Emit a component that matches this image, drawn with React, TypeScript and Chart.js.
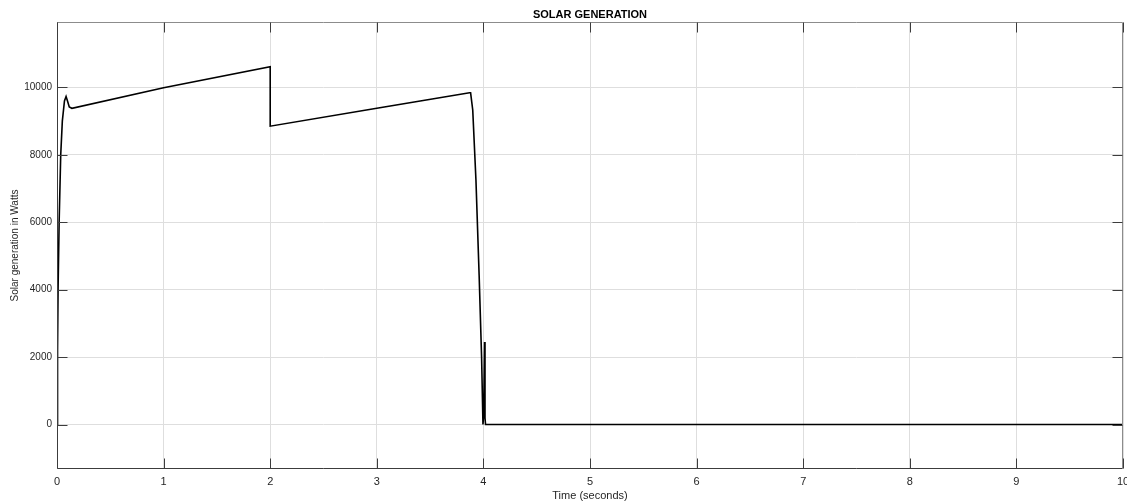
import React, { useEffect, useRef } from "react";
import { Chart, registerables } from "chart.js";

Chart.register(...registerables);

const timeSeconds = [
  0, 0.005, 0.01, 0.02, 0.035, 0.05, 0.07, 0.085, 0.1, 0.115, 0.14,
  1.0, 2.0, 2.0, 3.0, 3.87, 3.88, 3.9, 3.93, 3.96, 3.983, 3.996, 4.003,
  4.011, 4.015, 4.02, 5, 6, 7, 8, 9, 10,
];
const solarWatts = [
  0, 2200, 4000, 6000, 8000, 9000, 9600, 9730, 9580, 9420, 9380,
  9990, 10610, 8850, 9380, 9840, 9840, 9330, 7260, 4430, 2000, 0, 300,
  2450, 200, 0, 0, 0, 0, 0, 0, 0,
];
const xTicks = [0, 1, 2, 3, 4, 5, 6, 7, 8, 9, 10];
const yTicks = [0, 2000, 4000, 6000, 8000, 10000];
const titleText = "SOLAR GENERATION";
const xLabel = "Time (seconds)";
const yLabel = "Solar generation in Watts";

const FONT = "'Liberation Sans', Arial, sans-serif";

const framePlugin = {
  id: "frame",
  afterDraw(chart: any) {
    const { ctx, chartArea: a, scales } = chart;
    const L = Math.round(a.left) + 0.5;
    const R = Math.round(a.right) - 0.5;
    const T = Math.round(a.top) + 0.5;
    const B = Math.round(a.bottom) - 0.5;
    ctx.save();
    ctx.lineWidth = 1;
    ctx.strokeStyle = "#8c8c8c";
    ctx.beginPath();
    ctx.moveTo(L, T);
    ctx.lineTo(R, T);
    ctx.lineTo(R, B);
    ctx.stroke();
    ctx.strokeStyle = "#3c3c3c";
    ctx.beginPath();
    ctx.moveTo(L, T);
    ctx.lineTo(L, B);
    ctx.lineTo(R, B);
    ctx.stroke();
    const len = 10;
    ctx.beginPath();
    for (const v of xTicks) {
      const x = Math.round(scales.x.getPixelForValue(v)) + 0.5;
      ctx.moveTo(x, B);
      ctx.lineTo(x, B - len);
      ctx.moveTo(x, T);
      ctx.lineTo(x, T + len);
    }
    for (const v of yTicks) {
      const y = Math.round(scales.y.getPixelForValue(v)) + 0.5;
      ctx.moveTo(L, y);
      ctx.lineTo(L + len, y);
      ctx.moveTo(R, y);
      ctx.lineTo(R - len, y);
    }
    ctx.stroke();
    ctx.fillStyle = "#000000";
    ctx.font = "bold 11px " + FONT;
    ctx.textAlign = "center";
    ctx.textBaseline = "middle";
    ctx.fillText(titleText, (a.left + a.right) / 2, 14.5);
    ctx.restore();
  },
};

export default function App() {
  const ref = useRef<HTMLCanvasElement>(null);
  useEffect(() => {
    document.body.style.margin = "0";
    const points = timeSeconds.map((t, i) => ({ x: t, y: solarWatts[i] }));
    const chart = new Chart(ref.current!, {
      type: "scatter",
      data: {
        datasets: [
          {
            data: points,
            showLine: true,
            borderColor: "#000000",
            borderWidth: 1.6,
            pointRadius: 0,
            tension: 0,
          },
        ],
      },
      options: {
        animation: false,
        responsive: false,
        layout: { padding: { left: 0, right: 4, top: 22, bottom: 0 } },
        plugins: {
          legend: { display: false },
          tooltip: { enabled: false },
          title: { display: false },
        },
        scales: {
          x: {
            type: "linear",
            min: 0,
            max: 10,
            afterBuildTicks: (s: any) => {
              s.ticks = xTicks.map((v) => ({ value: v }));
            },
            afterFit: (s: any) => {
              s.height = 35;
              s.paddingLeft = 0;
              s.paddingRight = 0;
            },
            ticks: {
              color: "#262626",
              font: { family: FONT, size: 11 },
              padding: 6,
              maxRotation: 0,
              autoSkip: false,
              callback: (v: any) => String(v),
            },
            grid: { color: "#dedede", drawTicks: false, lineWidth: 1 },
            border: { display: false },
            title: {
              display: true,
              text: xLabel,
              color: "#262626",
              font: { family: FONT, size: 11 },
              padding: { top: 0, bottom: 1 },
            },
          },
          y: {
            type: "linear",
            min: -1320,
            max: 11940,
            afterBuildTicks: (s: any) => {
              s.ticks = yTicks.map((v) => ({ value: v }));
            },
            afterFit: (s: any) => {
              s.width = 57;
              s.paddingTop = 0;
              s.paddingBottom = 0;
            },
            ticks: {
              color: "#262626",
              font: { family: FONT, size: 10 },
              padding: 5,
              autoSkip: false,
              callback: (v: any) => String(v),
            },
            grid: { color: "#dedede", drawTicks: false, lineWidth: 1 },
            border: { display: false },
            title: {
              display: true,
              text: yLabel,
              color: "#262626",
              font: { family: FONT, size: 10 },
              padding: { top: 9, bottom: 0 },
            },
          },
        },
      },
      plugins: [framePlugin],
    });
    return () => chart.destroy();
  }, []);
  return (
    <div style={{ position: "absolute", left: 0, top: 0, width: 1127, height: 504, background: "#fff" }}>
      <canvas ref={ref} width={1127} height={504} style={{ display: "block" }} />
    </div>
  );
}
